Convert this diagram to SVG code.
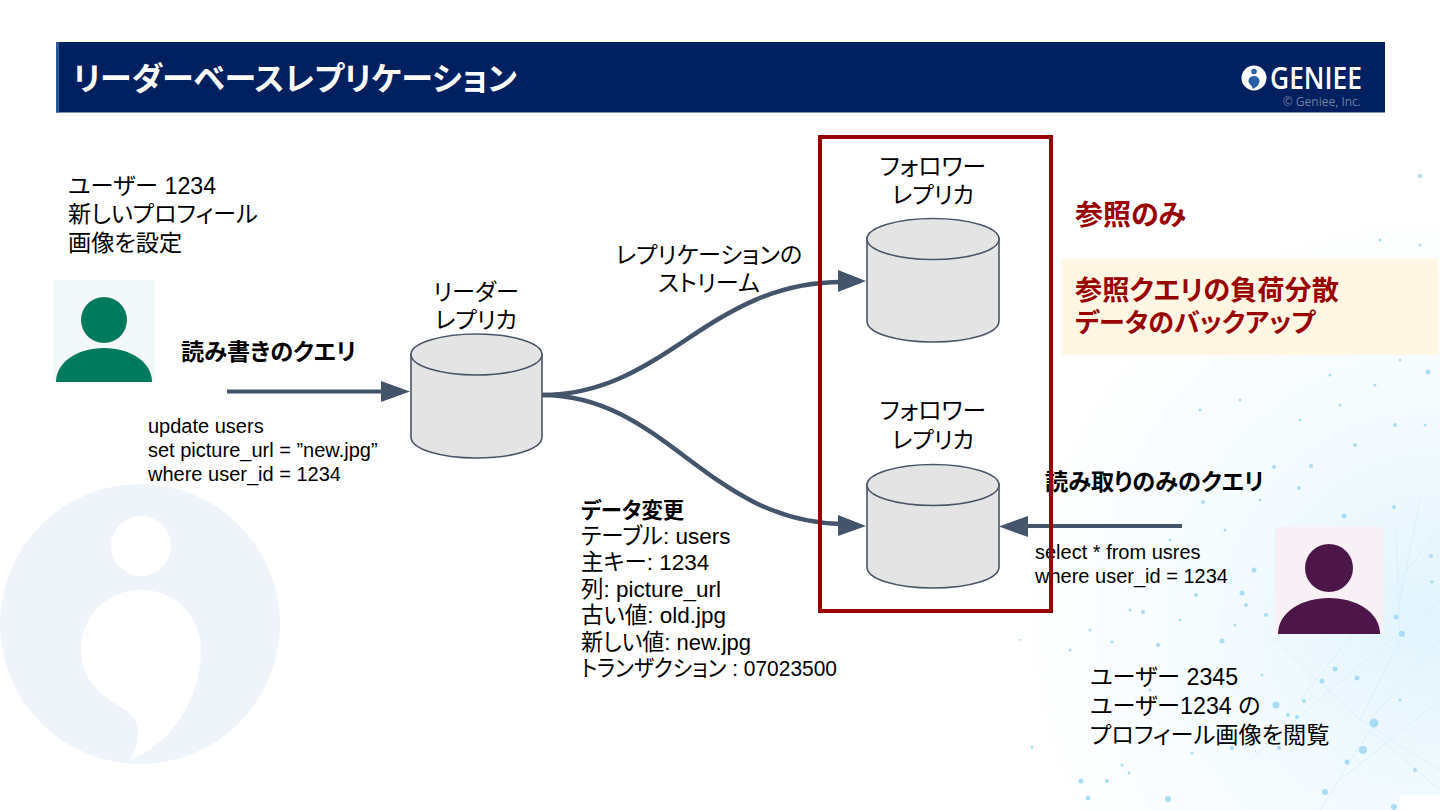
<svg xmlns="http://www.w3.org/2000/svg" width="1440" height="810" viewBox="0 0 1440 810">
<defs>
<radialGradient id="glow" gradientUnits="userSpaceOnUse" cx="1430" cy="620" r="420">
<stop offset="0" stop-color="#e2f4fd"/><stop offset=".5" stop-color="#f4fbfe"/><stop offset="1" stop-color="#fff"/>
</radialGradient>
</defs>
<style>
text{font-family:"Liberation Sans","Noto Sans CJK JP",sans-serif;fill:#000;font-feature-settings:"palt"}
.t{font-size:23.2px}
.s{font-size:22.5px}
.c{font-size:20px}
.m{text-anchor:middle}
.b{font-weight:bold;font-size:23.2px}
.r{font-weight:bold;fill:#990000;font-size:27.2px}
.db{fill:#e4e4e4;stroke:#4a5568;stroke-width:1.6}
.cn{fill:none;stroke:#44546a;stroke-width:4.5}
.ah{fill:#44546a}
.d{fill:#a9dcf5}
.l{stroke:#d6eefa;stroke-width:.8;fill:none}
</style>
<rect width="1440" height="810" fill="#fff"/>
<g id="background">
<circle cx="140" cy="624" r="140" fill="#eff4fa"/>
<circle cx="141" cy="546" r="30" fill="#fff"/>
<path d="M141 590C105 590 81 618 81 650C81 686 110 700 128 712C142 722 140 745 130 760C170 745 201 700 201 650C201 618 177 590 141 590Z" fill="#fff"/>
<rect x="1000" y="200" width="440" height="610" fill="url(#glow)"/>
<path class="l" d="M1440 530L1340 650L1300 700M1440 600L1330 690L1250 760M1275 640L1360 720L1440 770M1396 530L1400 640L1360 720M1370 720L1440 640M1340 780L1440 700M1420 500L1396 620M1320 810L1370 730L1440 790"/>
<g class="d">
<circle cx="1374" cy="723" r="4.5"/><circle cx="1363" cy="750" r="4"/><circle cx="1347" cy="762" r="2.5"/><circle cx="1325" cy="792" r="3"/><circle cx="1394" cy="807" r="3"/><circle cx="1168" cy="799" r="3"/><circle cx="1088" cy="798" r="2.5"/><circle cx="1081" cy="781" r="2.5"/><circle cx="1107" cy="781" r="2"/><circle cx="1122" cy="765" r="1.5"/><circle cx="1129" cy="773" r="1.5"/><circle cx="1032" cy="747" r="1.5"/><circle cx="1335" cy="669" r="2.5"/><circle cx="1322" cy="681" r="2.5"/><circle cx="1357" cy="678" r="2.5"/><circle cx="1262" cy="675" r="1.5"/><circle cx="1276" cy="705" r="3.500"/><circle cx="1304" cy="701" r="2"/><circle cx="1288" cy="715" r="2"/><circle cx="1297" cy="717" r="2"/><circle cx="1279" cy="748" r="2"/><circle cx="1232" cy="748" r="2"/><circle cx="1192" cy="753" r="1.5"/><circle cx="1222" cy="641" r="2.5"/><circle cx="1158" cy="645" r="2"/><circle cx="1112" cy="642" r="1.5"/><circle cx="1143" cy="612" r="2"/><circle cx="1242" cy="593" r="2.5"/><circle cx="1254" cy="570" r="2.5"/><circle cx="1246" cy="605" r="2"/><circle cx="1266" cy="615" r="2"/><circle cx="1396" cy="617" r="2.5"/><circle cx="1402" cy="634" r="3"/><circle cx="1431" cy="556" r="2"/><circle cx="1432" cy="582" r="1.5"/><circle cx="1344" cy="516" r="2.5"/><circle cx="1311" cy="466" r="2"/><circle cx="1274" cy="467" r="2"/><circle cx="1394" cy="507" r="2"/><circle cx="1299" cy="488" r="2"/><circle cx="1196" cy="595" r="2"/><circle cx="1203" cy="502" r="2"/><circle cx="1428" cy="372" r="2.500"/><circle cx="1375" cy="385" r="1.5"/><circle cx="1340" cy="405" r="1.5"/><circle cx="1395" cy="425" r="2"/><circle cx="1300" cy="420" r="1.5"/><circle cx="1420" cy="176" r="2"/><circle cx="1380" cy="240" r="1.5"/><circle cx="1420" cy="245" r="1.5"/><circle cx="1428" cy="300" r="1.5"/><circle cx="1200" cy="410" r="1.5"/><circle cx="1020" cy="640" r="1"/><circle cx="1070" cy="650" r="1.5"/><circle cx="1150" cy="690" r="1.5"/><circle cx="1210" cy="680" r="1.5"/><circle cx="1400" cy="700" r="1.5"/><circle cx="1415" cy="770" r="2"/><circle cx="1240" cy="400" r="1.5"/><circle cx="1355" cy="445" r="2"/><circle cx="1425" cy="425" r="1.5"/><circle cx="1260" cy="500" r="1.5"/><circle cx="1330" cy="375" r="1.5"/><circle cx="1400" cy="360" r="1.5"/><circle cx="1180" cy="620" r="1.5"/><circle cx="1130" cy="610" r="1.5"/><circle cx="1090" cy="630" r="1.5"/><circle cx="1235" cy="625" r="1.5"/><circle cx="1170" cy="540" r="1.5"/><circle cx="1225" cy="530" r="1.5"/>
</g>
<path d="M1400 795H1440V810H1400Z" fill="#fff"/>
</g>
<g id="header">
<rect x="56" y="42" width="1329" height="70.500" fill="#00205f"/>
<rect x="56" y="42" width="3" height="70.500" fill="#2a5a9c"/>
<text x="73" y="90" font-size="32" font-weight="bold" style="fill:#fff">リーダーベースレプリケーション</text>
</g>
<g id="logo">
<circle cx="1254" cy="78" r="12.5" fill="#fff"/>
<circle cx="1254" cy="71.500" r="2.8" fill="#2a5fa8"/>
<path d="M1254 76C1250 76 1248.500 79 1248.500 81C1248.500 84 1252 85 1253 89C1257 87 1259.500 84 1259.500 81C1259.500 78 1257 76 1254 76Z" fill="#2a5fa8"/>
<text x="1270" y="89" font-size="31" font-weight="600" textLength="92" lengthAdjust="spacingAndGlyphs" style="fill:#fff;font-family:'Open Sans',sans-serif">GENIEE</text>
<text x="1361" y="106" font-size="12" text-anchor="end" style="fill:#6f7f9e;font-family:'Open Sans',sans-serif">© Geniee, Inc.</text>
</g>
<g id="connectors">
<path class="cn" style="stroke-width:4" d="M227 391.500H385"/>
<path class="ah" d="M381 381L410 391.500L381 402Z"/>
<path class="cn" d="M542 395C665 395 708 282 842 282"/>
<path class="ah" d="M838 270L866 281L838 292Z"/>
<path class="cn" d="M542 395C665 395 708 522 842 524"/>
<path class="ah" d="M838 515L866 526L838 536Z"/>
<path class="cn" style="stroke-width:4" d="M1182 526H1024"/>
<path class="ah" d="M1028 516L999 526.500L1028 537Z"/>
</g>
<g id="user-1234">
<rect x="53" y="280" width="102" height="102" fill="#f2f7f7"/>
<circle cx="104" cy="320" r="23" fill="#007a5c"/>
<path d="M56 382C56 362 78 348 104 348C130 348 152 362 152 382Z" fill="#007a5c"/>
<text class="t" x="68" y="194">ユーザー 1234</text>
<text class="t" x="68" y="222">新しいプロフィール</text>
<text class="t" x="68" y="251">画像を設定</text>
</g>
<g id="user-2345">
<rect x="1275" y="527" width="108" height="107" fill="#f7f1f6"/>
<circle cx="1329" cy="568" r="24" fill="#4d1648"/>
<path d="M1278 634C1278 612 1302 598 1329 598C1356 598 1380 612 1380 634Z" fill="#4d1648"/>
<text class="t" x="1090" y="685">ユーザー 2345</text>
<text class="t" x="1090" y="714">ユーザー1234 の</text>
<text class="t" x="1090" y="743">プロフィール画像を閲覧</text>
</g>
<g id="leader">
<path class="db" d="M411 354V437C411 449 440 458 476.500 458C513 458 542 449 542 437V354Z"/>
<ellipse class="db" cx="476.500" cy="354.500" rx="65.500" ry="20.500"/>
<text class="t m" x="476" y="300">リーダー</text>
<text class="t m" x="476" y="328">レプリカ</text>
</g>
<g id="follower-1">
<path class="db" d="M867 238V321C867 333 896 342 933 342C970 342 999 333 999 321V238Z"/>
<ellipse class="db" cx="933" cy="239" rx="66" ry="20.500"/>
<text class="t m" x="933" y="175" style="font-size:23.800px">フォロワー</text>
<text class="t m" x="933" y="203">レプリカ</text>
</g>
<g id="follower-2">
<path class="db" d="M867 484V567C867 579 896 588 933 588C970 588 999 579 999 567V484Z"/>
<ellipse class="db" cx="933" cy="485" rx="66" ry="20.500"/>
<text class="t m" x="933" y="419" style="font-size:23.800px">フォロワー</text>
<text class="t m" x="933" y="448">レプリカ</text>
</g>
<g id="labels">
<text class="b" x="181" y="360">読み書きのクエリ</text>
<text class="c" x="148" y="433">update users</text>
<text class="c" x="148" y="457">set picture_url = ”new.jpg”</text>
<text class="c" x="148" y="481">where user_id = 1234</text>
<text class="t m" x="709" y="263">レプリケーションの</text>
<text class="t m" x="709" y="291">ストリーム</text>
<text class="b" x="581" y="518" style="font-size:21.400px">データ変更</text>
<text class="s" x="581" y="544">テーブル: users</text>
<text class="s" x="581" y="570">主キー: 1234</text>
<text class="s" x="581" y="597">列: picture_url</text>
<text class="s" x="581" y="623">古い値: old.jpg</text>
<text class="s" x="581" y="650" textLength="170" lengthAdjust="spacingAndGlyphs">新しい値: new.jpg</text>
<text class="s" x="581" y="676" textLength="256" lengthAdjust="spacingAndGlyphs">トランザクション : 07023500</text>
<text class="b" x="1045" y="490">読み取りのみのクエリ</text>
<text class="c" x="1035" y="559">select * from usres</text>
<text class="c" x="1035" y="583">where user_id = 1234</text>
</g>
<g id="note">
<rect x="1062" y="259" width="376" height="96" fill="#fff6e3"/>
<text class="r" x="1075" y="225" style="font-size:28px">参照のみ</text>
<text class="r" x="1075" y="300">参照クエリの負荷分散</text>
<text class="r" x="1075" y="332" style="font-size:26px">データのバックアップ</text>
</g>
<g id="follower-box">
<rect x="820" y="137" width="231" height="474" fill="none" stroke="#990000" stroke-width="4"/>
</g>
</svg>
